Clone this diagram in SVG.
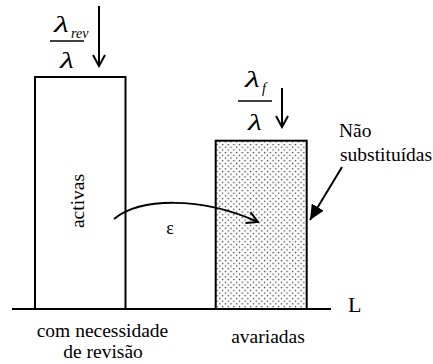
<svg xmlns="http://www.w3.org/2000/svg" width="433" height="364" viewBox="0 0 433 364">
<defs>
<pattern id="dots" width="5.6" height="5.4" patternUnits="userSpaceOnUse">
<rect x="0.8" y="0.8" width="1.3" height="1.3" fill="#333"/>
<rect x="3.6" y="3.5" width="1.3" height="1.3" fill="#333"/>
</pattern>
<marker id="open" markerWidth="14" markerHeight="14" refX="12" refY="7" orient="auto" markerUnits="userSpaceOnUse">
<path d="M1,1 L12,7 L1,13" fill="none" stroke="#000" stroke-width="2"/>
</marker>
<marker id="solid" markerWidth="16" markerHeight="14" refX="15" refY="7" orient="auto" markerUnits="userSpaceOnUse">
<path d="M0,0 L15,7 L0,14 Z" fill="#000"/>
</marker>
</defs>
<style>
text{font-family:'Liberation Serif','DejaVu Serif',serif;fill:#000}
.lab{font-size:19.5px}
.gr{font-size:23px;font-style:italic}
.sub{font-size:14px;font-style:italic}
.ln{stroke:#000;stroke-width:2;fill:none}
.frac{stroke:#000;stroke-width:1.3}
</style>
<g id="axis">
<line class="ln" x1="12" y1="309" x2="331" y2="309"/>
<text x="348" y="312" font-size="22">L</text>
</g>
<g id="activas">
<rect x="35" y="77" width="90.5" height="232" fill="#fff" stroke="#000" stroke-width="2"/>
<text class="lab" transform="translate(84,201) rotate(-90)" text-anchor="middle">activas</text>
<text class="lab" x="102.5" y="337" text-anchor="middle">com necessidade</text>
<text class="lab" x="103" y="358" text-anchor="middle">de revisão</text>
</g>
<g id="avariadas">
<rect x="215.7" y="140.7" width="91" height="168.3" fill="url(#dots)" stroke="#000" stroke-width="2"/>
<text class="lab" x="268" y="343" text-anchor="middle">avariadas</text>
</g>
<g id="nao-substituidas">
<text class="lab" x="339" y="137">Não</text>
<text class="lab" x="340" y="161">substituídas</text>
</g>
<g id="rate-rev">
<text class="gr" x="54" y="32" textLength="15" lengthAdjust="spacingAndGlyphs">λ</text>
<text class="sub" x="71" y="38">rev</text>
<line class="frac" x1="50" y1="41" x2="84" y2="41"/>
<text class="gr" x="60" y="68" textLength="14" lengthAdjust="spacingAndGlyphs">λ</text>
</g>
<g id="rate-f">
<text class="gr" x="245" y="87" textLength="15" lengthAdjust="spacingAndGlyphs">λ</text>
<text class="sub" x="262" y="93">f</text>
<line class="frac" x1="238" y1="101" x2="272" y2="101"/>
<text class="gr" x="248" y="130" textLength="14" lengthAdjust="spacingAndGlyphs">λ</text>
</g>
<g id="connectors">
<line class="ln" x1="99" y1="6" x2="99" y2="66" marker-end="url(#open)"/>
<line class="ln" x1="282" y1="88" x2="282" y2="127" marker-end="url(#open)"/>
<path class="ln" d="M114,219 C140,198 200,196 258,222" marker-end="url(#open)"/>
<text x="170" y="234" font-size="18" text-anchor="middle">ε</text>
<line class="ln" x1="342" y1="167" x2="310" y2="220" marker-end="url(#solid)"/>
</g>
</svg>
